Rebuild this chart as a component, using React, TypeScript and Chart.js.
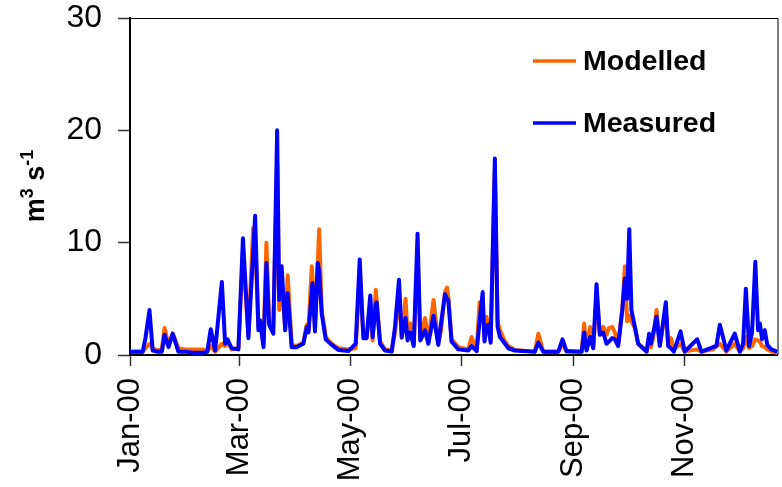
import React, { useEffect, useRef } from "react";
import { Chart, registerables } from "chart.js";

Chart.register(...registerables);

// day of year 2000 (0 = 1 Jan)
const days = [
  0, 7, 8.5, 10.7, 12.5, 15, 17.5, 19, 21.2, 23.5, 26.6, 30, 35, 40, 42.5, 44.4, 46.8, 50.5, 52.3, 53.6,
  55.9, 59.6, 62.1, 65.1, 67.7, 68.8, 70.6, 71.5, 73.4, 75.0, 76.5, 78.8, 80.9, 82.0, 83.4, 85.3, 86.7, 88.9,
  91.6, 95.3, 97.2, 98.1, 99.9, 100.3, 101.7, 103.2, 104.0, 105.4, 107.6, 110.9, 114.6, 120.1, 124.1, 126.3,
  128.3, 130.1, 132.1, 133.4, 135.1, 135.6, 137.5, 140.2, 143.9, 145.7, 147.9, 149.4, 151.5, 152.6, 154.1,
  156.0, 158.1, 159.6, 162.2, 164.0, 166.9, 169.5, 171.0, 173.2, 174.3, 175.0, 176.8, 180.5, 186, 187.8,
  190.6, 192.2, 193.9, 194.9, 196.0, 197.0, 198.3, 200.6, 202.1, 203.4, 206.2, 208.0, 211.6, 222.6, 224.5,
  227.2, 235.5, 237.8, 240, 248.3, 249.7, 251.0, 253.0, 254.7, 256.5, 258.3, 260.2, 262.0, 263.3, 265.1,
  266.6, 268.4, 270.6, 272.1, 273.3, 274.5, 275.7, 277.6, 279.4, 282.1, 284.0, 285.4, 286.4, 287.6, 289.5,
  291.3, 294.6, 295.9, 297.4, 299, 302.7, 305, 311.8, 314.2, 320.6, 322.4, 324.3, 327.9, 332.5, 335.3,
  337.1, 338.6, 340.4, 342, 343.8, 345.3, 346.3, 347.5, 349, 350.4, 352.6, 355.9,
];

const modelled = [
  0.3, 0.3, 0.6, 1.0, 0.6, 0.4, 0.5, 2.4, 0.9, 1.9, 0.6, 0.5, 0.5, 0.5, 0.3, 0.8, 0.3, 1.0, 0.8, 1.2,
  0.5, 0.6, 9.0, 1.8, 11.3, 10.0, 2.5, 3.0, 1.0, 10.0, 3.0, 2.6, 17.0, 4.0, 6.5, 2.4, 7.1, 0.9,
  0.8, 1.1, 2.7, 2.2, 7.9, 7.0, 2.3, 8.0, 11.2, 4.0, 1.6, 1.0, 0.6, 0.5, 0.6, 7.0,
  1.8, 1.6, 4.5, 1.3, 5.8, 5.0, 1.2, 0.5, 0.4, 2.0, 5.5, 1.5, 5.0, 1.8, 2.8,
  0.9, 9.0, 1.4, 3.3, 1.2, 4.9, 1.0, 2.2, 5.6, 6.0, 5.2, 1.4, 0.7, 0.5, 1.6,
  0.4, 4.7, 3.5, 1.5, 3.4, 2.6, 1.3, 16.5, 3.0, 2.2, 1.2, 0.8, 0.45, 0.3, 1.9,
  0.3, 0.3, 1.0, 0.3, 0.3, 2.8, 0.5, 2.5, 0.7, 5.0, 2.0, 2.5, 1.8, 2.4, 2.5,
  2.0, 0.9, 4.0, 7.9, 3.0, 3.5, 3.0, 2.4, 1.0, 0.6, 0.3, 1.0, 0.7, 1.5, 4.0,
  0.9, 4.0, 0.8, 1.5, 0.5, 1.0, 0.3, 0.5, 0.3, 0.5, 0.8, 1.0, 0.3, 1.0, 0.3,
  0.6, 1.6, 0.6, 0.8, 1.4, 1.3, 1.2, 0.8, 0.7, 0.5, 0.3, 0.2,
];

const measured = [
  0.3, 0.3, 1.5, 4.0, 0.4, 0.3, 0.3, 1.8, 0.7, 1.9, 0.3, 0.3, 0.2, 0.2, 0.3, 2.3, 0.4, 6.5, 1.0, 1.4,
  0.6, 0.5, 10.4, 1.5, 9.0, 12.4, 2.2, 3.1, 0.7, 8.2, 2.7, 1.9, 20.0, 4.9, 7.9, 2.2, 5.5, 0.7,
  0.7, 1.0, 2.5, 2.0, 5.5, 6.4, 2.1, 8.2, 7.5, 3.7, 1.4, 0.9, 0.45, 0.35, 1.0, 8.5,
  1.5, 1.5, 5.3, 1.6, 4.5, 4.7, 1.0, 0.4, 0.3, 2.5, 6.7, 1.6, 3.3, 1.3, 2.0,
  0.8, 10.8, 1.3, 2.2, 1.0, 3.5, 0.9, 2.8, 5.4, 5.0, 4.9, 1.2, 0.5, 0.4, 0.8,
  0.35, 3.0, 5.6, 1.2, 2.5, 2.7, 1.1, 17.5, 2.5, 1.6, 1.0, 0.6, 0.4, 0.3, 1.1,
  0.3, 0.3, 1.4, 0.35, 0.3, 2.0, 0.4, 1.6, 0.6, 6.3, 1.8, 2.0, 1.0, 1.2, 1.5,
  1.4, 0.8, 3.9, 6.8, 5.0, 11.2, 4.0, 2.5, 1.0, 0.6, 0.3, 1.9, 1.0, 1.9, 3.4,
  0.8, 4.7, 0.8, 0.6, 0.3, 2.1, 0.3, 1.4, 0.3, 0.7, 0.8, 2.7, 0.4, 1.9, 0.3,
  1.0, 5.9, 0.8, 2.0, 8.3, 2.2, 2.8, 1.4, 2.2, 0.9, 0.5, 0.3,
];

const tickDays = [0, 60, 121, 182, 244, 305];
const tickLabels = ["Jan-00", "Mar-00", "May-00", "Jul-00", "Sep-00", "Nov-00"];
const yTicks = [0, 10, 20, 30];

const seriesNames = ["Modelled", "Measured"];
const seriesColors = ["#FF6600", "#0000FF"];

const FONT = "'Liberation Sans', Arial, sans-serif";

const framePlugin = {
  id: "frame",
  afterDraw(chart: any) {
    const { ctx, chartArea } = chart;
    ctx.save();
    ctx.strokeStyle = "#000";
    ctx.lineWidth = 1;
    ctx.beginPath();
    ctx.moveTo(chartArea.left, chartArea.top + 0.5);
    ctx.lineTo(chartArea.right + 0.5, chartArea.top + 0.5);
    ctx.lineTo(chartArea.right + 0.5, chartArea.bottom);
    ctx.stroke();
    ctx.restore();
  },
};

const yTitlePlugin = {
  id: "yTitle",
  afterDraw(chart: any) {
    const { ctx } = chart;
    const parts = [
      { t: "m", sup: false },
      { t: "3", sup: true },
      { t: " s", sup: false },
      { t: "-1", sup: true },
    ];
    const big = `bold 27px ${FONT}`;
    const small = `bold 18px ${FONT}`;
    ctx.save();
    let total = 0;
    for (const p of parts) {
      ctx.font = p.sup ? small : big;
      total += ctx.measureText(p.t).width;
    }
    ctx.translate(44, 186);
    ctx.rotate(-Math.PI / 2);
    ctx.fillStyle = "#000";
    ctx.textBaseline = "alphabetic";
    ctx.textAlign = "left";
    let x = -total / 2;
    for (const p of parts) {
      ctx.font = p.sup ? small : big;
      ctx.fillText(p.t, x, p.sup ? -11 : 0);
      x += ctx.measureText(p.t).width;
    }
    ctx.restore();
  },
};

const legendPlugin = {
  id: "customLegend",
  afterDraw(chart: any) {
    const { ctx } = chart;
    ctx.save();
    const ys = [61, 123];
    seriesNames.forEach((name, i) => {
      ctx.strokeStyle = seriesColors[i];
      ctx.lineWidth = 3.5;
      ctx.beginPath();
      ctx.moveTo(533, ys[i]);
      ctx.lineTo(576, ys[i]);
      ctx.stroke();
      ctx.fillStyle = "#000";
      ctx.font = `bold 28.5px ${FONT}`;
      ctx.textBaseline = "middle";
      ctx.textAlign = "left";
      ctx.fillText(name, 583, ys[i] + 1);
    });
    ctx.restore();
  },
};

export default function App() {
  const canvasRef = useRef<HTMLCanvasElement | null>(null);

  useEffect(() => {
    document.body.style.margin = "0";
    const canvas = canvasRef.current;
    if (!canvas) return;
    const modelledData = days.map((d, i) => ({ x: d, y: modelled[i] }));
    const measuredData = days.map((d, i) => ({ x: d, y: measured[i] }));
    const chart = new Chart(canvas, {
      type: "line",
      data: {
        datasets: [
          {
            label: seriesNames[0],
            data: modelledData,
            borderColor: seriesColors[0],
            backgroundColor: seriesColors[0],
            borderWidth: 4,
            pointRadius: 0,
            tension: 0,
            borderJoinStyle: "round",
            order: 2,
          },
          {
            label: seriesNames[1],
            data: measuredData,
            borderColor: seriesColors[1],
            backgroundColor: seriesColors[1],
            borderWidth: 4,
            pointRadius: 0,
            tension: 0,
            borderJoinStyle: "round",
            order: 1,
          },
        ],
      },
      options: {
        responsive: false,
        animation: false,
        events: [],
        layout: { padding: { top: 18, right: 4.5, left: 0, bottom: 0 } },
        plugins: {
          legend: { display: false },
          tooltip: { enabled: false },
          title: { display: false },
        },
        scales: {
          x: {
            type: "linear",
            min: 0,
            max: 356,
            afterBuildTicks: (scale: any) => {
              scale.ticks = tickDays.map((v) => ({ value: v }));
            },
            afterFit: (scale: any) => {
              scale.height = 132;
              scale.paddingLeft = 0;
              scale.paddingRight = 0;
            },
            ticks: {
              autoSkip: false,
              minRotation: 90,
              maxRotation: 90,
              padding: 12,
              color: "#000",
              font: { family: FONT, size: 31 },
              callback: (value: any) => {
                const i = tickDays.indexOf(Number(value));
                return i >= 0 ? tickLabels[i] : "";
              },
            },
            grid: {
              display: true,
              drawOnChartArea: false,
              drawTicks: true,
              tickLength: 11,
              tickColor: "#333",
              tickWidth: 1.5,
            },
            border: { display: true, color: "#000", width: 2 },
          },
          y: {
            min: 0,
            max: 30,
            afterBuildTicks: (scale: any) => {
              scale.ticks = yTicks.map((v) => ({ value: v }));
            },
            afterFit: (scale: any) => {
              scale.width = 130;
              scale.paddingTop = 0;
              scale.paddingBottom = 0;
            },
            ticks: {
              padding: 16,
              color: "#000",
              font: { family: FONT, size: 32 },
            },
            grid: {
              display: true,
              drawOnChartArea: false,
              drawTicks: true,
              tickLength: 12,
              tickColor: "#333",
              tickWidth: 1.5,
            },
            border: { display: true, color: "#000", width: 2 },
          },
        },
      },
      plugins: [framePlugin, yTitlePlugin, legendPlugin],
    } as any);
    return () => chart.destroy();
  }, []);

  return (
    <div style={{ width: 782, height: 487 }}>
      <canvas ref={canvasRef} width={782} height={487} style={{ display: "block" }} />
    </div>
  );
}
